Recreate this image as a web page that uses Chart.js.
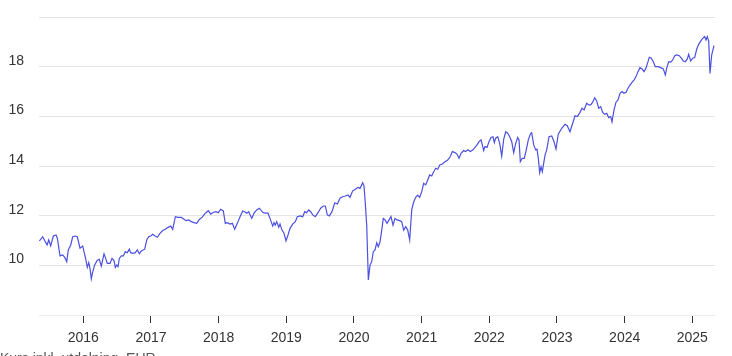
<!DOCTYPE html>
<html><head><meta charset="utf-8">
<script src="https://cdn.jsdelivr.net/npm/chart.js@4.4.1/dist/chart.umd.min.js"></script>
<style>html,body{margin:0;padding:0;background:#fff}#wrap{width:732px;height:356px;position:relative;overflow:hidden}</style>
</head><body><div id="wrap"><canvas id="c" width="732" height="356"></canvas></div>
<script>
// Decimal-year dates and values
const dates = [
2015.350,2015.400,2015.438,2015.464,2015.489,2015.518,2015.557,2015.597,2015.616,2015.656,
2015.696,2015.725,2015.755,2015.778,2015.814,2015.843,2015.882,2015.911,2015.951,2015.991,
2016.030,2016.059,2016.080,2016.099,2016.118,2016.139,2016.168,2016.207,2016.236,2016.266,
2016.306,2016.325,2016.355,2016.395,2016.424,2016.454,2016.473,2016.494,2016.513,2016.532,
2016.562,2016.591,2016.621,2016.650,2016.680,2016.700,2016.730,2016.768,2016.798,2016.828,
2016.857,2016.907,2016.937,2016.966,2016.996,2017.026,2017.055,2017.094,2017.133,2017.173,
2017.212,2017.252,2017.292,2017.321,2017.360,2017.399,2017.448,2017.478,2017.518,2017.558,
2017.596,2017.636,2017.676,2017.714,2017.754,2017.794,2017.813,2017.847,2017.883,2017.921,
2017.961,2017.995,2018.030,2018.069,2018.098,2018.128,2018.168,2018.202,2018.237,2018.276,
2018.316,2018.356,2018.385,2018.415,2018.444,2018.489,2018.523,2018.562,2018.601,2018.630,
2018.660,2018.690,2018.729,2018.759,2018.799,2018.818,2018.837,2018.858,2018.888,2018.907,
2018.936,2018.966,2018.995,2019.025,2019.055,2019.094,2019.133,2019.162,2019.202,2019.242,
2019.272,2019.301,2019.331,2019.360,2019.390,2019.428,2019.468,2019.508,2019.547,2019.576,
2019.606,2019.635,2019.675,2019.715,2019.754,2019.793,2019.833,2019.872,2019.912,2019.941,
2019.981,2020.020,2020.059,2020.089,2020.129,2020.148,2020.167,2020.188,2020.212,2020.237,
2020.262,2020.285,2020.311,2020.336,2020.359,2020.385,2020.410,2020.433,2020.458,2020.488,
2020.518,2020.547,2020.577,2020.606,2020.636,2020.676,2020.705,2020.735,2020.764,2020.794,
2020.823,2020.853,2020.883,2020.912,2020.942,2020.971,2021.001,2021.030,2021.060,2021.089,
2021.119,2021.149,2021.178,2021.208,2021.237,2021.267,2021.305,2021.345,2021.385,2021.423,
2021.453,2021.493,2021.522,2021.552,2021.582,2021.621,2021.651,2021.681,2021.719,2021.759,
2021.788,2021.818,2021.848,2021.877,2021.896,2021.917,2021.936,2021.966,2021.995,2022.025,
2022.054,2022.074,2022.094,2022.124,2022.153,2022.183,2022.212,2022.242,2022.272,2022.301,
2022.331,2022.360,2022.390,2022.419,2022.439,2022.458,2022.487,2022.517,2022.546,2022.576,
2022.606,2022.626,2022.656,2022.685,2022.705,2022.724,2022.744,2022.764,2022.783,2022.823,
2022.848,2022.882,2022.922,2022.956,2022.985,2023.019,2023.070,2023.118,2023.152,2023.192,
2023.232,2023.266,2023.300,2023.340,2023.370,2023.399,2023.439,2023.469,2023.498,2023.528,
2023.557,2023.587,2023.616,2023.646,2023.676,2023.705,2023.735,2023.764,2023.794,2023.813,
2023.843,2023.872,2023.902,2023.931,2023.961,2023.990,2024.020,2024.049,2024.079,2024.108,
2024.138,2024.168,2024.197,2024.227,2024.256,2024.286,2024.315,2024.345,2024.364,2024.394,
2024.423,2024.453,2024.493,2024.533,2024.571,2024.601,2024.621,2024.651,2024.680,2024.710,
2024.740,2024.769,2024.807,2024.837,2024.867,2024.896,2024.926,2024.946,2024.976,2025.006,
2025.035,2025.065,2025.094,2025.124,2025.153,2025.183,2025.202,2025.221,2025.242,2025.261,
2025.286,2025.320
];
const values = [
10.98,11.15,10.95,10.82,11.02,10.78,11.18,11.22,11.09,10.38,
10.42,10.32,10.15,10.62,10.82,11.15,11.18,11.15,10.69,10.78,
10.32,9.92,10.11,9.87,9.46,9.74,10.01,10.21,10.24,9.97,
10.46,10.32,10.08,10.08,10.28,10.19,9.92,10.01,9.95,10.28,
10.38,10.38,10.55,10.51,10.65,10.51,10.48,10.51,10.62,10.46,
10.58,10.65,11.02,11.15,11.18,11.25,11.19,11.13,11.29,11.40,
11.45,11.53,11.58,11.45,11.96,11.93,11.93,11.88,11.80,11.83,
11.76,11.72,11.69,11.85,11.93,12.07,12.12,12.20,12.06,12.14,
12.16,12.12,12.26,12.19,11.69,11.72,11.66,11.69,11.45,11.69,
11.96,12.19,12.16,12.10,12.16,11.89,12.10,12.23,12.30,12.20,
12.12,12.10,12.10,11.89,11.58,11.72,11.62,11.76,11.53,11.66,
11.42,11.29,10.98,11.22,11.49,11.66,11.76,11.96,11.99,11.96,
12.16,12.12,12.23,12.16,12.03,11.96,12.12,12.30,12.39,12.39,
12.03,11.99,12.16,12.52,12.47,12.70,12.76,12.79,12.83,12.74,
13.00,13.06,13.14,13.10,13.33,13.20,12.50,11.60,9.41,10.01,
10.15,10.55,10.62,10.91,10.75,10.95,11.42,11.89,11.83,11.69,
11.83,11.96,11.62,11.89,11.83,11.80,11.76,11.42,11.56,11.42,
11.02,12.23,12.56,12.74,12.83,12.74,12.97,13.30,13.24,13.44,
13.64,13.60,13.77,13.91,13.87,14.04,14.08,14.17,14.24,14.38,
14.58,14.54,14.48,14.31,14.51,14.62,14.58,14.65,14.58,14.65,
14.75,14.85,14.98,15.05,14.85,14.62,14.78,14.75,14.98,15.15,
15.18,14.94,15.12,15.18,14.91,14.40,15.07,15.38,15.32,15.18,
14.98,14.54,14.91,15.15,15.05,14.17,14.31,14.31,14.65,15.05,
15.29,15.34,14.85,14.65,14.68,14.31,13.73,13.97,13.77,14.44,
14.65,15.18,15.21,14.98,14.68,15.28,15.52,15.68,15.62,15.38,
15.72,16.02,15.99,16.16,16.33,16.26,16.53,16.46,16.46,16.57,
16.75,16.62,16.33,16.39,16.16,16.08,16.12,15.95,15.99,15.78,
16.26,16.57,16.66,16.93,17.00,16.93,16.97,17.13,17.26,17.37,
17.46,17.60,17.80,17.96,17.91,17.80,17.94,18.20,18.38,18.34,
18.20,18.00,18.00,17.96,17.91,17.67,17.94,18.20,18.18,18.27,
18.44,18.47,18.44,18.34,18.23,18.20,18.31,18.50,18.23,18.34,
18.37,18.71,18.90,19.03,19.14,19.21,19.07,19.21,19.03,17.73,
18.47,18.85
];
const yearTicks = [2016,2017,2018,2019,2020,2021,2022,2023,2024,2025];
const yTicks = [8,10,12,14,16,18,20];
const yLabels = [10,12,14,16,18];
const xMin = 2015.345, xMax = 2025.335;
const footnoteText = 'Kurs inkl. utdelning, EUR';

const FONT = 'Arial, "Liberation Sans", sans-serif';
const footnote = {
  id:'footnote',
  afterDraw(chart){
    const c = chart.ctx;
    c.save();
    c.font = '14px ' + FONT;
    c.fillStyle = '#555';
    c.textBaseline = 'top';
    c.textAlign = 'left';
    c.fillText(footnoteText, 0, 352);
    c.restore();
  }
};

new Chart(document.getElementById('c').getContext('2d'), {
  type:'line',
  data:{datasets:[{
    data: dates.map((d,i)=>({x:d, y:values[i]})),
    borderColor:'#4b50e0', borderWidth:1.2, pointRadius:0, tension:0, fill:false
  }]},
  options:{
    responsive:false, animation:false, devicePixelRatio:1,
    layout:{padding:{top:17,right:17,left:0,bottom:0}},
    plugins:{legend:{display:false}, tooltip:{enabled:false}},
    scales:{
      x:{
        type:'linear', min:xMin, max:xMax,
        afterBuildTicks:s=>{ s.ticks = yearTicks.map(v=>({value:v})); },
        afterFit:s=>{ s.height = 41; s.paddingLeft = 0; s.paddingRight = 0; },
        grid:{drawOnChartArea:false, drawTicks:true, tickLength:8, tickColor:'#333', lineWidth:1},
        border:{display:true, color:'#ebebf0'},
        ticks:{padding:7, color:'#333', font:{family:FONT, size:14}, maxRotation:0, autoSkip:false, callback:v=>String(v)}
      },
      y:{
        min:8, max:20,
        afterBuildTicks:s=>{ s.ticks = yTicks.map(v=>({value:v})); },
        afterFit:s=>{ s.width = 39; s.paddingTop = 0; s.paddingBottom = 0; },
        grid:{color:'#e4e4e4', drawTicks:false},
        border:{display:false},
        ticks:{padding:15, labelOffset:-6, color:'#333', font:{family:FONT, size:14}, callback:v=> yLabels.includes(v) ? String(v) : ''}
      }
    }
  },
  plugins:[footnote]
});
</script>
</body></html>
